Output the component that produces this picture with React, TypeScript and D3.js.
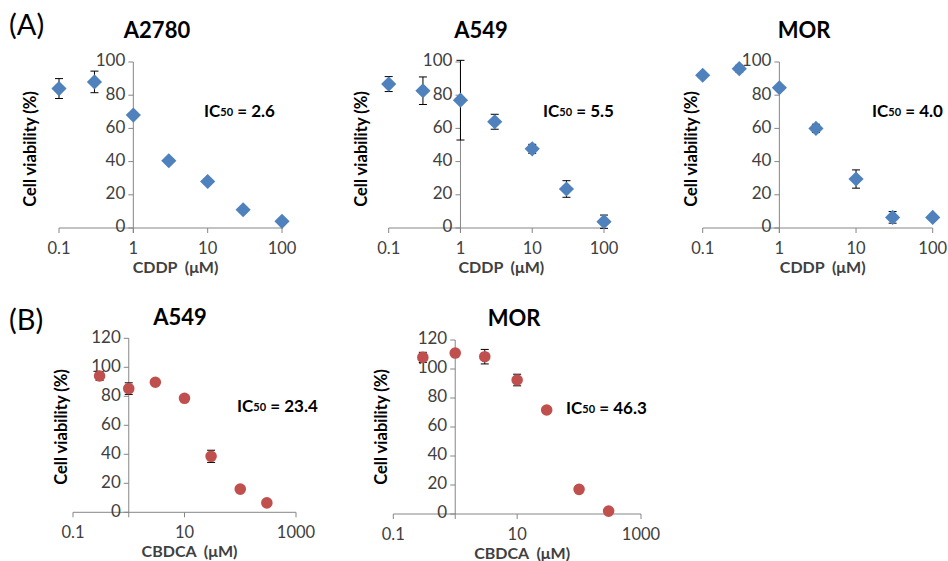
import React from "react";
import * as d3 from "d3";

// doses (µM)
const cddpDose = [0.1, 0.3, 1, 3, 10, 30, 100];
const cbdcaDose = [0.3, 1, 3, 10, 30, 100, 300];

// cell viability (%) and error
const a2780Cddp = [84, 88, 68, 40.5, 28, 11, 4];
const a2780CddpErr = [6, 6.5, 1.5, 1.5, 1.5, 1.5, 1];
const a549Cddp = [86.7, 82.7, 77, 64, 47.7, 23.5, 3.8];
const a549CddpErr = [4.5, 8.3, 24, 4.5, 2.7, 5, 4];
const morCddp = [92, 96, 84.5, 60, 29.5, 6.4, 6.4];
const morCddpErr = [1, 2, 1, 2.5, 5.5, 3.5, 1];
const a549Cbdca = [94, 85.3, 89.7, 78.6, 38.6, 16, 6.5];
const a549CbdcaErr = [3, 4, 1, 1, 4.2, 1, 1];
const morCbdca = [108, 111, 108.5, 92.4, 71.7, 17, 2];
const morCbdcaErr = [3.5, 1, 5, 4, 1, 2, 1];

const cddpTicks = [0.1, 1, 10, 100];
const cbdcaTicks = [0.1, 10, 1000];
const yTicksA = [0, 20, 40, 60, 80, 100];
const yTicksB = [0, 20, 40, 60, 80, 100, 120];

const FONT = "Lato, 'Open Sans', sans-serif";
const AXIS = "#868686";
const LABEL = "#404040";
const BLUE = "#4F81BD";
const RED = "#C0504D";

type Panel = {
  title: string;
  ic50: string;
  drug: string;
  dose: number[];
  vals: number[];
  errs: number[];
  xTicks: number[];
  xDomain: [number, number];
  xRange: [number, number];
  yTicks: number[];
  yRange: [number, number];
  yMax: number;
  marker: "diamond" | "circle";
  titleX: number;
  titleY: number;
  ylabX: number;
  ylabY: number;
  icX: number;
  icY: number;
};

const panels: Panel[] = [
  {
    title: "A2780", ic50: "2.6", drug: "CDDP", dose: cddpDose, vals: a2780Cddp, errs: a2780CddpErr,
    xTicks: cddpTicks, xDomain: [0.1, 100], xRange: [59, 282], yTicks: yTicksA, yRange: [228, 62], yMax: 100,
    marker: "diamond", titleX: 157, titleY: 32, ylabX: 32, ylabY: 149, icX: 204, icY: 113,
  },
  {
    title: "A549", ic50: "5.5", drug: "CDDP", dose: cddpDose, vals: a549Cddp, errs: a549CddpErr,
    xTicks: cddpTicks, xDomain: [0.1, 100], xRange: [388.7, 604], yTicks: yTicksA, yRange: [228, 62], yMax: 100,
    marker: "diamond", titleX: 481, titleY: 32, ylabX: 363, ylabY: 149, icX: 543, icY: 113,
  },
  {
    title: "MOR", ic50: "4.0", drug: "CDDP", dose: cddpDose, vals: morCddp, errs: morCddpErr,
    xTicks: cddpTicks, xDomain: [0.1, 100], xRange: [702.7, 932.7], yTicks: yTicksA, yRange: [228, 62], yMax: 100,
    marker: "diamond", titleX: 804, titleY: 32, ylabX: 693, ylabY: 149, icX: 872, icY: 113,
  },
  {
    title: "A549", ic50: "23.4", drug: "CBDCA", dose: cbdcaDose, vals: a549Cbdca, errs: a549CbdcaErr,
    xTicks: cbdcaTicks, xDomain: [0.1, 1000], xRange: [73, 296], yTicks: yTicksB, yRange: [512.3, 338.3], yMax: 120,
    marker: "circle", titleX: 180, titleY: 319, ylabX: 63, ylabY: 427, icX: 237, icY: 408,
  },
  {
    title: "MOR", ic50: "46.3", drug: "CBDCA", dose: cbdcaDose, vals: morCbdca, errs: morCbdcaErr,
    xTicks: cbdcaTicks, xDomain: [0.1, 1000], xRange: [393.3, 641], yTicks: yTicksB, yRange: [514, 340], yMax: 120,
    marker: "circle", titleX: 514, titleY: 320, ylabX: 383, ylabY: 427, icX: 566, icY: 410,
  },
];

const diamond = d3.symbol().type(d3.symbolSquare).size(115)();
const circle = d3.symbol().type(d3.symbolCircle).size(105)();

function ChartPanel({ p }: { p: Panel }) {
  const x = d3.scaleLog().domain(p.xDomain).range(p.xRange);
  const y = d3.scaleLinear().domain([0, p.yMax]).range(p.yRange);
  const yAxisX = x(1);
  const y0 = y(0);
  const fmt = (d: number) => (d < 1 ? String(d) : d3.format("d")(d));
  const color = p.marker === "diamond" ? BLUE : RED;
  return (
    <g>
      <text x={p.titleX} y={p.titleY} textAnchor="middle" dominantBaseline="middle"
        fontFamily={FONT} fontWeight="bold" fontSize={22} fill="#000">{p.title}</text>

      {/* x axis */}
      <line x1={p.xRange[0]} x2={p.xRange[1]} y1={y0} y2={y0} stroke={AXIS} />
      {p.xTicks.map((t) => (
        <g key={"xt" + t}>
          <line x1={x(t)} x2={x(t)} y1={y0} y2={y0 + 5} stroke={AXIS} />
          <text x={x(t)} y={y0 + 22} textAnchor="middle" dominantBaseline="middle"
            fontFamily={FONT} fontSize={16.5} fill={LABEL}>{fmt(t)}</text>
        </g>
      ))}
      <text x={(p.xRange[0] + p.xRange[1]) / 2 + 5} y={y0 + 41} textAnchor="middle" dominantBaseline="middle"
        fontFamily={FONT} fontWeight="bold" fontSize={16} fill={LABEL} xmlSpace="preserve">{p.drug + "  (\u03bcM)"}</text>

      {/* y axis */}
      <line x1={yAxisX} x2={yAxisX} y1={y(p.yMax)} y2={y0 + 5} stroke={AXIS} />
      {p.yTicks.map((t) => (
        <g key={"yt" + t}>
          <line x1={yAxisX - 5} x2={yAxisX} y1={y(t)} y2={y(t)} stroke={AXIS} />
          <text x={yAxisX - 8} y={y(t)} textAnchor="end" dominantBaseline="middle"
            fontFamily={FONT} fontSize={17} fill={LABEL}>{t}</text>
        </g>
      ))}
      <text transform={`translate(${p.ylabX},${p.ylabY}) rotate(-90)`} textAnchor="middle" dominantBaseline="middle"
        fontFamily={FONT} fontWeight="bold" fontSize={16.5} fill="#000">Cell viability (%)</text>

      {/* error bars */}
      {p.dose.map((d, i) => (
        <g key={"e" + i} stroke="#000" strokeWidth={1}>
          <line x1={x(d)} x2={x(d)} y1={y(p.vals[i] - p.errs[i])} y2={y(p.vals[i] + p.errs[i])} />
          <line x1={x(d) - 4} x2={x(d) + 4} y1={y(p.vals[i] - p.errs[i])} y2={y(p.vals[i] - p.errs[i])} />
          <line x1={x(d) - 4} x2={x(d) + 4} y1={y(p.vals[i] + p.errs[i])} y2={y(p.vals[i] + p.errs[i])} />
        </g>
      ))}

      {/* markers */}
      {p.dose.map((d, i) => (
        <path key={"m" + i} d={p.marker === "diamond" ? diamond! : circle!} fill={color}
          transform={`translate(${x(d)},${y(p.vals[i])})${p.marker === "diamond" ? " rotate(45)" : ""}`} />
      ))}

      <text x={p.icX} y={p.icY} dominantBaseline="middle" fontFamily={FONT} fontWeight="bold" fontSize={17} fill="#000">
        IC<tspan fontSize={11}>50</tspan>{" = " + p.ic50}
      </text>
    </g>
  );
}

export default function App() {
  return (
    <svg width={948} height={561} style={{ position: "absolute", left: 0, top: 0, background: "#fff" }}>
      <rect width={948} height={561} fill="#fff" />
      <text x={9} y={28} dominantBaseline="middle" fontFamily={FONT} fontSize={29} fill="#000">(A)</text>
      <text x={9} y={323} dominantBaseline="middle" fontFamily={FONT} fontSize={29} fill="#000">(B)</text>
      {panels.map((p, i) => (
        <ChartPanel key={i} p={p} />
      ))}
    </svg>
  );
}
